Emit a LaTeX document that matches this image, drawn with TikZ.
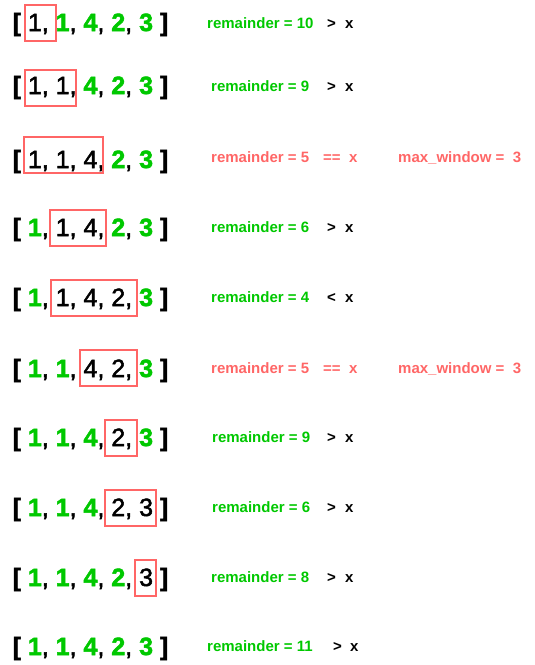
\documentclass[tikz,border=0pt]{standalone}
\usepackage{fontspec}
\setmainfont{Liberation Sans}
\newfontfamily\medfont[FakeBold=2]{Liberation Sans}
\definecolor{grn}{RGB}{0,200,0}
\definecolor{rd}{RGB}{255,102,102}
\newcommand{\gn}[1]{{\color{grn}\bfseries #1}}
\newcommand{\bcm}{{\medfont ,}}
\newcommand{\lbk}{{\bfseries [}}
\newcommand{\rbk}{{\bfseries ]}}
\begin{document}
\begin{tikzpicture}[x=1pt,y=-1pt,
  arr/.style={font=\fontsize{25}{30}\selectfont\medfont, inner sep=0pt, anchor=base west, text=black},
  lbl/.style={font=\fontsize{15}{18}\selectfont\bfseries, inner sep=0pt, anchor=base west},
  okl/.style={lbl, text=grn},
  hit/.style={lbl, text=rd},
  cmp/.style={lbl, text=black},
  winbox/.style={draw=rd, line width=1.5pt}]
\useasboundingbox (0,0) rectangle (535,665);

% row 1
\node[arr] (a1) at (12.5,31) {\lbk\ 1, \gn{1}\bcm\ \gn{4}\bcm\ \gn{2}\bcm\ \gn{3} \rbk};
\draw[winbox] (25,5) rectangle (56,41);
\node[okl] (r1) at (207,28) {remainder = 10};
\node[cmp] (c1) at (327,28) {>};
\node[cmp] (x1) at (345,28) {x};

% row 2
\node[arr] (a2) at (12.5,94) {\lbk\ 1, 1, \gn{4}\bcm\ \gn{2}\bcm\ \gn{3} \rbk};
\draw[winbox] (25,70) rectangle (76,106);
\node[okl] (r2) at (211,91) {remainder = 9};
\node[cmp] (c2) at (327,91) {>};
\node[cmp] (x2) at (345,91) {x};

% row 3
\node[arr] (a3) at (12.5,168) {\lbk\ 1, 1, 4, \gn{2}\bcm\ \gn{3} \rbk};
\draw[winbox] (24,137) rectangle (103,173);
\node[hit] (r3) at (211,162) {remainder = 5};
\node[hit] (c3) at (323,162) {==};
\node[hit] (x3) at (349,162) {x};
\node[hit] (m3) at (398,162) {max\_window =\ \ 3};

% row 4
\node[arr] (a4) at (12.5,236) {\lbk\ \gn{1}\bcm\ 1, 4, \gn{2}\bcm\ \gn{3} \rbk};
\draw[winbox] (50,210) rectangle (106,246);
\node[okl] (r4) at (211,232) {remainder = 6};
\node[cmp] (c4) at (327,232) {>};
\node[cmp] (x4) at (345,232) {x};

% row 5
\node[arr] (a5) at (12.5,306) {\lbk\ \gn{1}\bcm\ 1, 4, 2, \gn{3} \rbk};
\draw[winbox] (51,280) rectangle (137,316);
\node[okl] (r5) at (211,302) {remainder = 4};
\node[cmp] (c5) at (327,302) {<};
\node[cmp] (x5) at (345,302) {x};

% row 6
\node[arr] (a6) at (12.5,377) {\lbk\ \gn{1}\bcm\ \gn{1}\bcm\ 4, 2, \gn{3} \rbk};
\draw[winbox] (80,350) rectangle (137,386);
\node[hit] (r6) at (211,373) {remainder = 5};
\node[hit] (c6) at (323,373) {==};
\node[hit] (x6) at (349,373) {x};
\node[hit] (m6) at (398,373) {max\_window =\ \ 3};

% row 7
\node[arr] (a7) at (12.5,446) {\lbk\ \gn{1}\bcm\ \gn{1}\bcm\ \gn{4}\bcm\ 2, \gn{3} \rbk};
\draw[winbox] (105,420) rectangle (137,456);
\node[okl] (r7) at (212,442) {remainder = 9};
\node[cmp] (c7) at (327,442) {>};
\node[cmp] (x7) at (345,442) {x};

% row 8
\node[arr] (a8) at (12.5,516) {\lbk\ \gn{1}\bcm\ \gn{1}\bcm\ \gn{4}\bcm\ 2, 3 \rbk};
\draw[winbox] (105,490) rectangle (156,526);
\node[okl] (r8) at (212,512) {remainder = 6};
\node[cmp] (c8) at (327,512) {>};
\node[cmp] (x8) at (345,512) {x};

% row 9
\node[arr] (a9) at (12.5,586) {\lbk\ \gn{1}\bcm\ \gn{1}\bcm\ \gn{4}\bcm\ \gn{2}\bcm\ 3 \rbk};
\draw[winbox] (135,560) rectangle (156,596);
\node[okl] (r9) at (211,582) {remainder = 8};
\node[cmp] (c9) at (327,582) {>};
\node[cmp] (x9) at (345,582) {x};

% row 10
\node[arr] (a10) at (12.5,655) {\lbk\ \gn{1}\bcm\ \gn{1}\bcm\ \gn{4}\bcm\ \gn{2}\bcm\ \gn{3} \rbk};
\node[okl] (r10) at (207,651) {remainder = 11};
\node[cmp] (c10) at (333,651) {>};
\node[cmp] (x10) at (350,651) {x};
\end{tikzpicture}
\end{document}
